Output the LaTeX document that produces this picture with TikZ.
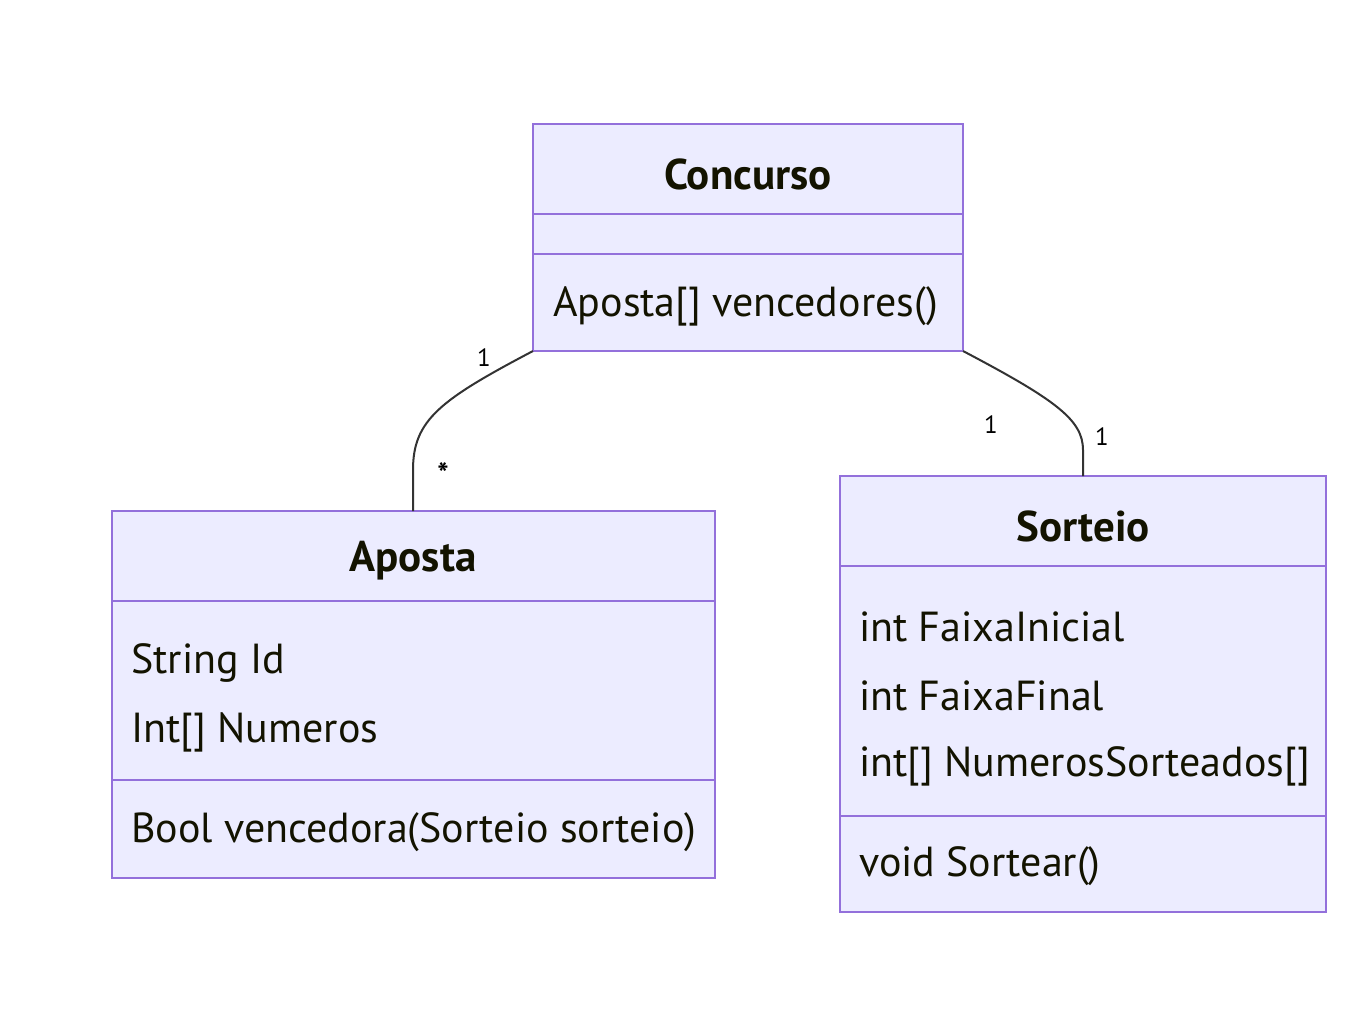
\documentclass[tikz,border=0pt]{standalone}
\usepackage{fontspec}
\setmainfont{PT Sans}
\definecolor{boxfill}{HTML}{ECECFF}
\definecolor{boxline}{HTML}{9370DB}
\definecolor{txt}{HTML}{131300}
\definecolor{edge}{HTML}{333333}
\tikzset{
  classbox/.style={draw=boxline, fill=boxfill, line width=2pt},
  divider/.style={draw=boxline, line width=2pt},
  title/.style={font=\fontsize{43}{50}\selectfont\bfseries, text=txt, anchor=center, inner sep=0pt},
  member/.style={font=\fontsize{42}{50}\selectfont, text=txt, anchor=west, inner sep=0pt},
  mult/.style={font=\fontsize{25}{29}\selectfont, text=black, inner sep=0pt},
  assoc/.style={draw=edge, line width=2pt}
}
\begin{document}
\begin{tikzpicture}[x=1pt,y=-1pt]
\useasboundingbox (0,0) rectangle (1372,1022);
% Concurso
\path[classbox] (533,124) rectangle (963,351);
\coordinate (cTL) at (533,351);
\coordinate (cTR) at (963,351);
\draw[divider] (533,214) -- (963,214);
\draw[divider] (533,254) -- (963,254);
\node[title] (cname) at (748,174) {Concurso};
\node[member] (cm1) at (553,306) {Aposta[] vencedores()};
% Aposta
\path[classbox] (112,511) rectangle (715,878);
\coordinate (aTop) at (413,511);
\draw[divider] (112,601) -- (715,601);
\draw[divider] (112,780) -- (715,780);
\node[title] (aname) at (413,561) {Aposta};
\node[member] (aa1) at (131,663) {String Id};
\node[member] (aa2) at (131,732) {Int[] Numeros};
\node[member] (am1) at (131,832) {Bool vencedora(Sorteio sorteio)};
% Sorteio
\path[classbox] (840,476) rectangle (1326,912);
\coordinate (sTop) at (1083,476);
\draw[divider] (840,566) -- (1326,566);
\draw[divider] (840,816) -- (1326,816);
\node[title] (sname) at (1083,526) {Sorteio};
\node[member] (sa1) at (859,627) {int FaixaInicial};
\node[member] (sa2) at (859,696) {int FaixaFinal};
\node[member] (sa3) at (859,766) {int[] NumerosSorteados[]};
\node[member] (sm1) at (859,866) {void Sortear()};
% associations
\draw[assoc] (cTL) .. controls (440,400) and (413,420) .. (413,470) -- (aTop);
\draw[assoc] (cTR) .. controls (1056,400) and (1083,420) .. (1083,450) -- (sTop);
\node[mult] (l1) at (484,358) {1};
\node[mult, font=\fontsize{30}{34}\selectfont\bfseries] (l2) at (443,474) {*};
\node[mult] (l3) at (991,425) {1};
\node[mult] (l4) at (1102,437) {1};
\end{tikzpicture}
\end{document}
